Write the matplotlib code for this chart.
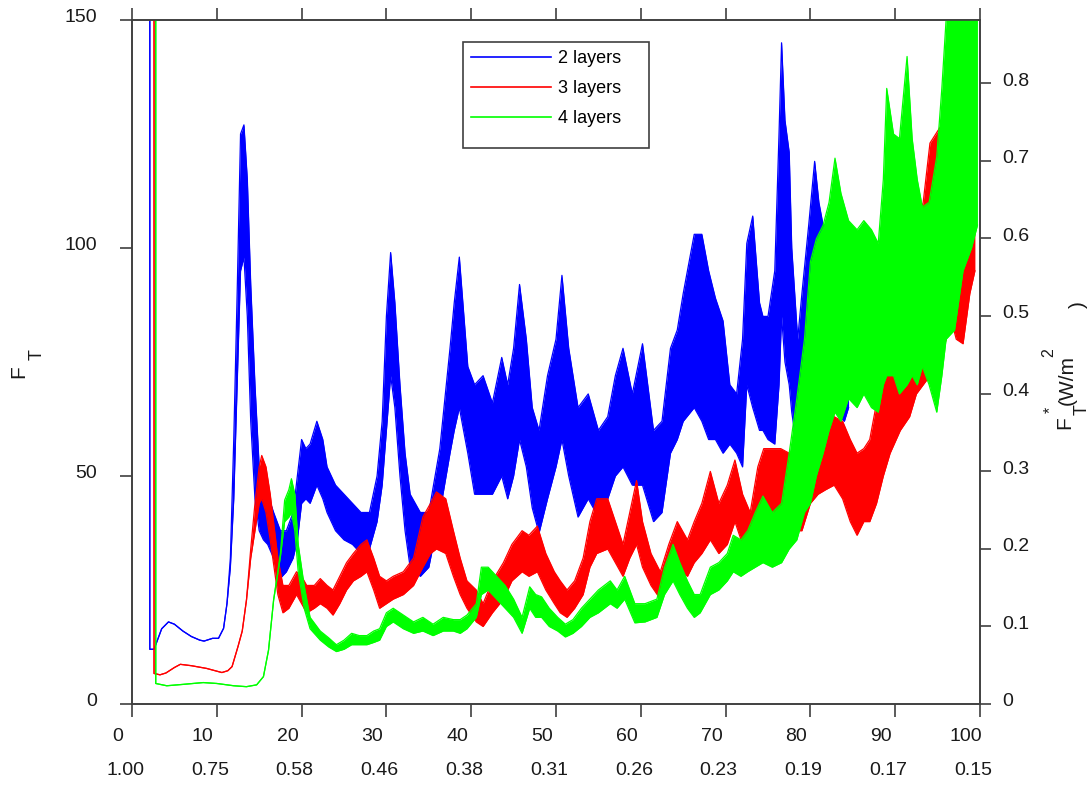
import matplotlib
matplotlib.use("Agg")
import matplotlib.pyplot as plt
from matplotlib.transforms import ScaledTranslation
from matplotlib.patches import Rectangle
from matplotlib.lines import Line2D

plt.rcParams['font.family'] = ['Liberation Sans', 'DejaVu Sans']

# ---- data (F_T, envelope of the noisy curves) ----
blue_x = [2.1, 2.1, 2.6, 3.0, 3.5, 4.3, 5.0, 6.0,
          7.0, 8.0, 8.5, 9.5, 10.2, 10.8, 11.2, 11.6,
          12.0, 12.4, 12.8, 13.2, 13.6, 14.0, 14.5, 15.0,
          15.5, 16.0, 16.7, 17.5, 18.2, 19.0, 19.5, 20.0,
          20.5, 21.0, 21.8, 22.5, 23.0, 24.0, 25.0, 26.0,
          27.0, 28.0, 28.9, 29.5, 30.0, 30.5, 31.0, 31.6,
          32.2, 32.8, 34.0, 35.0, 36.3, 37.5, 38.0, 38.6,
          39.6, 40.4, 41.4, 42.5, 43.6, 44.3, 45.0, 45.7,
          46.5, 47.2, 48.0, 49.0, 50.0, 50.7, 51.5, 52.6,
          53.8, 55.0, 56.1, 57.0, 57.9, 59.0, 60.2, 61.5,
          62.5, 63.5, 64.3, 65.0, 66.3, 67.2, 68.0, 68.8,
          69.7, 70.5, 71.3, 72.0, 72.5, 73.2, 74.0, 74.4,
          75.0, 75.8, 76.3, 76.6, 77.0, 77.5, 77.8, 78.5,
          79.0, 79.8, 80.5, 81.0, 82.0, 83.0, 84.0, 84.5]
blue_lo = [160, 12, 12, 14, 16.5, 18, 17.5, 16,
           14.8, 14, 13.8, 14.4, 14.4, 16.6, 22, 30,
           45, 70, 95, 98, 85, 62, 45, 38,
           36, 35, 32, 27.6, 29, 32, 36, 44,
           45, 44, 48, 45, 42, 38, 36, 35,
           33, 34, 40, 48, 60, 72, 65, 50,
           38, 30, 28, 30, 42, 55, 60, 65,
           55, 46, 46, 46, 50, 45, 50, 58,
           52, 43, 37.5, 45, 52, 58, 50, 41,
           45, 41, 45, 50, 52, 48, 48, 40,
           42, 55, 58, 62, 65, 62, 58, 58,
           55, 57, 55, 52, 70, 65, 60, 60,
           58, 57, 70, 85, 75, 70, 64, 55,
           55, 65, 72, 68, 64, 64, 62, 65]
blue_hi = [160, 12, 12, 14, 16.5, 18, 17.5, 16,
           14.8, 14, 13.8, 14.4, 14.4, 16.6, 22, 32,
           58, 90, 125, 127, 115, 92, 70, 52,
           50, 46, 42, 38, 38, 42, 50, 58,
           56, 57, 62, 58, 52, 48, 46, 44,
           42, 42, 50, 62, 85, 99, 88, 70,
           55, 46, 42, 42, 56, 78, 88, 98,
           74, 70, 72, 66, 76, 70, 78, 92,
           80, 65, 60, 72, 80, 94, 78, 65,
           68, 60, 63, 72, 78, 68, 79, 60,
           62, 78, 82, 90, 103, 103, 95, 89,
           84, 70, 68, 80, 101, 107, 88, 85,
           85, 95, 125, 145, 128, 121, 100, 80,
           90, 105, 119, 110, 100, 85, 80, 75]

red_x = [2.6, 2.6, 3.3, 4.0, 5.0, 5.7, 7.0, 8.8,
         10.0, 10.6, 11.3, 11.8, 12.5, 13.0, 13.5, 14.0,
         14.5, 15.0, 15.3, 15.8, 16.3, 17.2, 17.8, 18.5,
         19.4, 20.0, 20.6, 21.5, 22.2, 23.0, 23.7, 24.5,
         25.3, 26.1, 27.0, 27.7, 28.5, 29.2, 30.0, 30.8,
         32.0, 33.2, 34.3, 35.2, 35.9, 37.0, 37.9, 38.7,
         39.5, 40.6, 41.4, 42.5, 43.8, 44.8, 46.0, 46.8,
         47.8, 48.8, 49.8, 50.5, 51.3, 52.2, 53.2, 54.0,
         54.8, 56.1, 57.0, 57.9, 58.7, 59.5, 60.2, 61.2,
         62.3, 63.3, 64.3, 65.5, 66.3, 67.2, 68.2, 69.2,
         70.2, 71.1, 72.0, 72.9, 73.8, 74.5, 75.5, 76.5,
         77.5, 78.2, 79.0, 80.0, 80.9, 81.8, 82.8, 83.8,
         84.7, 85.5, 86.3, 87.0, 87.8, 88.6, 89.4, 90.6,
         91.7, 92.5, 93.3, 94.1, 95.3, 96.0, 96.5, 97.2,
         98.0, 98.8, 99.4]
red_lo = [160, 6.7, 6.4, 6.8, 8.0, 8.7, 8.4, 7.8,
          7.2, 6.9, 7.3, 8.2, 12.6, 16, 22.8, 32,
          38, 44, 45, 42, 36, 24, 20, 21,
          24, 22, 20, 21, 22, 21, 19.5, 22,
          25, 27, 28, 29, 25, 21, 22, 23,
          24, 26, 30, 33, 34, 33, 28, 24,
          21, 18, 17, 20, 23, 27, 29, 28,
          29, 25, 22, 20, 19, 21, 24, 30,
          33, 34, 31, 28, 32, 35, 30, 26,
          23, 26, 30, 28, 31, 33, 36, 33,
          35, 40, 35, 35, 40, 44, 42, 43,
          42, 38, 38, 44, 46, 47, 48, 45,
          40, 37, 40, 40, 44, 50, 55, 60,
          63, 68, 70, 72, 75, 80, 85, 80,
          79, 90, 95]
red_hi = [160, 6.7, 6.4, 6.8, 8.0, 8.7, 8.4, 7.8,
          7.2, 6.9, 7.3, 8.2, 12.6, 16, 22.8, 34,
          44, 52, 54.5, 52, 46, 32, 26, 26,
          29, 28, 26, 26, 27.5, 26, 25, 28,
          31, 33, 35, 36, 32, 28, 27, 28,
          29, 32, 41, 44, 46.5, 45, 38, 32,
          27, 25, 22, 27, 31, 35, 38, 37,
          39, 33, 29, 27, 25, 27, 32, 40,
          45, 45, 40, 35, 42, 49, 40, 33,
          29, 35, 40, 36, 40, 44, 51, 44,
          48, 53.5, 46, 42, 52, 56, 56, 56,
          55, 52, 60, 66, 73, 65, 63, 62,
          58, 55, 56, 58, 66, 75, 86, 91,
          95, 105, 110, 123, 126.5, 118, 115, 122,
          118, 124, 115]

green_x = [2.8, 2.8, 4.1, 6.0, 8.4, 10.0, 12.0, 13.5,
           14.7, 15.5, 16.1, 16.7, 17.5, 18.0, 18.5, 18.8,
           19.2, 19.6, 20.3, 21.0, 22.2, 23.2, 24.1, 25.0,
           25.9, 26.8, 27.7, 28.5, 29.2, 30.0, 30.8, 32.0,
           33.2, 34.3, 35.5, 36.7, 37.9, 38.7, 39.5, 40.6,
           41.2, 42.0, 43.0, 44.0, 45.0, 46.0, 46.9, 47.6,
           48.3, 49.2, 50.2, 51.1, 52.0, 53.0, 54.0, 55.0,
           56.4, 57.2, 58.1, 59.3, 60.5, 61.9, 62.8, 63.8,
           64.6, 65.5, 66.3, 67.0, 68.2, 69.2, 70.2, 70.9,
           71.8, 72.6, 73.5, 74.4, 75.5, 76.6, 77.5, 78.4,
           79.3, 80.0, 80.7, 81.5, 82.2, 82.9, 83.6, 84.5,
           85.5, 86.3, 87.2, 88.0, 88.6, 89.0, 89.8, 90.5,
           91.4, 92.0, 92.6, 93.2, 94.0, 94.9, 95.5, 96.0,
           97.0, 98.0, 99.0, 99.7]
green_lo = [160, 4.5, 4.0, 4.3, 4.7, 4.5, 4.0, 3.8,
            4.2, 6.0, 11.8, 22.8, 32.3, 40, 41, 42,
            38, 29, 21, 16.5, 14, 12.5, 11.5, 12,
            13, 13, 13, 13.5, 14, 17, 18, 16.5,
            15.5, 16, 15, 16, 16, 15.5, 16.5, 19,
            24, 25, 23, 21, 19, 15.5, 21, 19,
            19, 17, 16, 14.7, 15.5, 17, 19, 20,
            22, 21, 23, 17.8, 18, 19, 24, 27,
            24, 21, 19, 20, 24, 25, 27, 29,
            28, 29, 30, 31, 30, 31, 34, 36,
            42, 44, 50, 55, 60, 64, 62, 67,
            65, 68, 65, 64, 70, 72, 72, 68,
            70, 72, 70, 74, 70, 64, 72, 80,
            82, 95, 100, 105]
green_hi = [160, 4.5, 4.0, 4.3, 4.7, 4.5, 4.0, 3.8,
            4.2, 6.0, 11.8, 22.8, 33, 44.7, 47, 49.4,
            46, 35, 26, 19, 16, 14.5, 13, 14,
            15.5, 15, 15, 16, 16.5, 20, 21, 19.5,
            18, 19, 17.5, 19, 18.5, 18.5, 19.5, 22,
            30, 30, 28, 26, 23, 19, 25.7, 24,
            23.5, 21, 19, 17.5, 18.5, 21, 23, 25,
            27, 25, 28, 22, 22, 23, 30, 35,
            31, 27, 24, 24, 30, 31, 33, 37,
            36, 38, 42, 45.6, 42, 44, 55, 67,
            80, 97, 102, 105, 110, 119.7, 112, 106,
            104, 106, 104, 101, 115, 135, 125, 124,
            142, 124, 115, 109, 110, 120, 135, 150,
            160, 160, 160, 160]

x_ticks = [0, 10, 20, 30, 40, 50, 60, 70, 80, 90, 100]
ratio_labels = ['1.00', '0.75', '0.58', '0.46', '0.38', '0.31',
                '0.26', '0.23', '0.19', '0.17', '0.15']
left_ticks = [0, 50, 100, 150]
right_ticks = [0, 0.1, 0.2, 0.3, 0.4, 0.5, 0.6, 0.7, 0.8]
right_labels = ['0', '0.1', '0.2', '0.3', '0.4', '0.5', '0.6', '0.7', '0.8']
flux_scale = 170.2   # F_T per unit of F*_T (W/m2)

series = [
    ('2 layers', '#0000ff', blue_x, blue_lo, blue_hi),
    ('3 layers', '#ff0000', red_x, red_lo, red_hi),
    ('4 layers', '#00ff00', green_x, green_lo, green_hi),
]

W, H = 1091, 785
fig = plt.figure(figsize=(W / 100, H / 100), dpi=100)
ax = fig.add_axes([132 / W, 81 / H, 848 / W, 684 / H])
ax2 = ax.twinx()

for z, (name, col, xs, lo, hi) in enumerate(series):
    ax.fill_between(xs, lo, hi, color=col, lw=0, zorder=2 + z)
    ax.plot(xs, lo, color=col, lw=0.9, zorder=2 + z)
    ax.plot(xs, hi, color=col, lw=0.9, zorder=2 + z)

ax.set_xlim(0, 100)
ax.set_ylim(0, 150)
ax2.set_ylim(0, 150 / flux_scale)

spine_col = '#404040'
txt_col = '#1a1a1a'
for a in (ax, ax2):
    for s in a.spines.values():
        s.set_color(spine_col)
        s.set_linewidth(1.2)

ax.set_xticks(x_ticks)
ax.set_yticks(left_ticks)
ax2.set_yticks(right_ticks)
ax2.set_yticklabels(right_labels)
ax.tick_params(axis='x', which='both', direction='out', length=9, width=1.2,
               color=spine_col, top=True, labelsize=14, pad=8, labelcolor=txt_col)
ax.tick_params(axis='y', direction='out', length=9, width=1.2, color=spine_col,
               labelsize=14, pad=16, labelcolor=txt_col)
ax2.tick_params(axis='y', direction='out', length=8, width=1.2, color=spine_col,
                labelsize=14, pad=8, labelcolor=txt_col)

dpt = fig.dpi_scale_trans
for lab in ax.get_xticklabels():
    lab.set_transform(lab.get_transform() + ScaledTranslation(-14 / 100, 0, dpt))
for lab in ax.get_yticklabels():
    lab.set_transform(lab.get_transform() + ScaledTranslation(0, 4 / 100, dpt))
for lab in ax2.get_yticklabels():
    lab.set_transform(lab.get_transform() + ScaledTranslation(0, 4 / 100, dpt))

# second row of x labels
sec = ax.secondary_xaxis('bottom')
sec.set_xticks(x_ticks)
sec.set_xticklabels(ratio_labels)
sec.tick_params(length=0, labelsize=14, pad=41.5, labelcolor=txt_col)
sec.spines['bottom'].set_visible(False)
for lab in sec.get_xticklabels():
    lab.set_transform(lab.get_transform() + ScaledTranslation(-7 / 100, 0, dpt))

# axis titles
def ftxt(px, py, s, size):
    fig.text(px / W, 1 - py / H, s, rotation=90, ha='center', va='center',
             fontsize=size, color=txt_col)

ftxt(19, 372, 'F', 15)
ftxt(37, 355, 'T', 13)
ftxt(1065, 423, 'F', 15)
ftxt(1050, 410, '*', 11.5)
ftxt(1082, 410, 'T', 13)
ftxt(1067, 380, '(W/m', 15)
ftxt(1049, 353, '2', 11.5)
ftxt(1078, 305, ')', 15)

# legend with square frame
handles = [Line2D([], [], color=col, lw=1.2) for _, col, _, _, _ in series]
ax.legend(handles, [s[0] for s in series], loc='upper left',
          bbox_to_anchor=(466 / W, 1 - 45 / H), bbox_transform=fig.transFigure,
          frameon=False, fontsize=13, handlelength=4.4, handletextpad=0.4,
          labelspacing=0.72, borderpad=0.3, borderaxespad=0)
fig.add_artist(Rectangle((463 / W, 1 - 148 / H), 186 / W, 106 / H,
                         transform=fig.transFigure, fill=False,
                         edgecolor=spine_col, lw=1.2, zorder=10))

fig.savefig('out.png', dpi=100)
